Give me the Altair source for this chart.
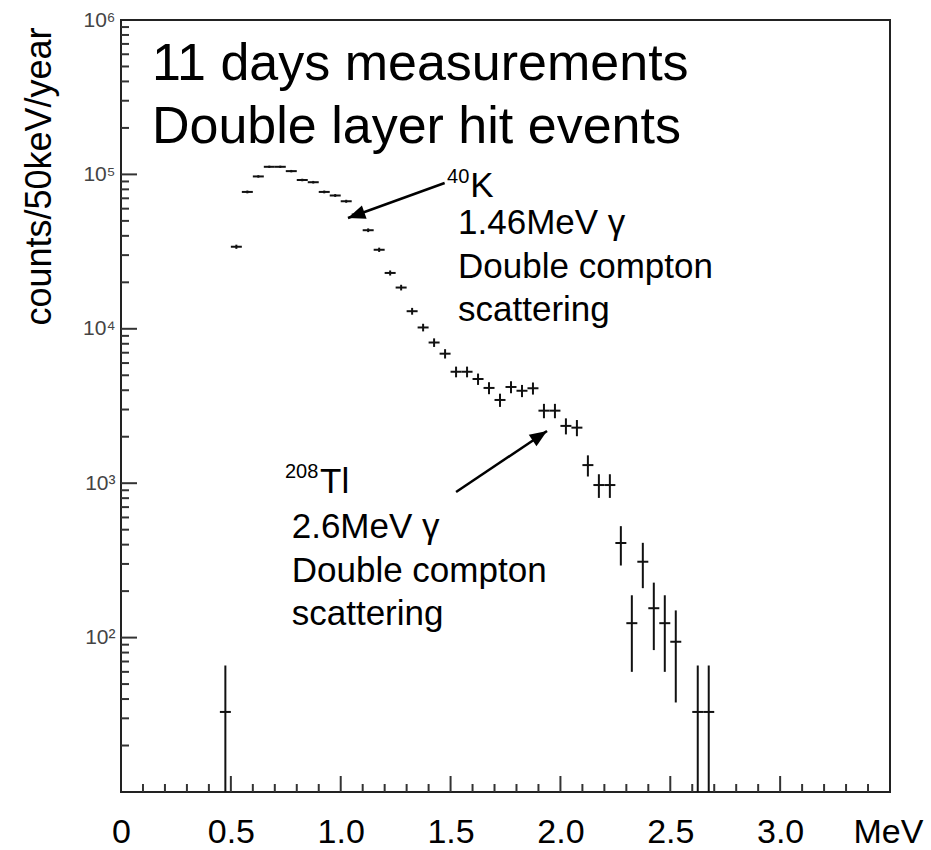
import altair as alt
import pandas as pd

# ---- data ----
energy = [0.475, 0.525, 0.575, 0.625, 0.675, 0.725, 0.775, 0.825, 0.875, 0.925,
          0.975, 1.025, 1.075, 1.125, 1.175, 1.225, 1.275, 1.325, 1.375, 1.425,
          1.475, 1.525, 1.575, 1.625, 1.675, 1.725, 1.775, 1.825, 1.875, 1.925,
          1.975, 2.025, 2.075, 2.125, 2.175, 2.225, 2.275, 2.325, 2.375, 2.425,
          2.475, 2.525, 2.625, 2.675]
counts = [33, 34000, 77000, 97000, 112000, 112000, 105000, 92000, 89000, 77000,
          73000, 67000, 55000, 43500, 32500, 23000, 18500, 13000, 10200, 8150,
          6900, 5270, 5270, 4730, 4140, 3460, 4200, 3970, 4120, 2950,
          2950, 2350, 2290, 1310, 973, 973, 410, 124, 310, 155,
          124, 94, 33, 33]
errors = [33, 1060, 1600, 1800, 1930, 1930, 1870, 1750, 1720, 1600,
          1560, 1490, 1350, 1200, 1040, 870, 780, 660, 580, 520,
          480, 420, 420, 400, 370, 340, 375, 360, 370, 315,
          315, 280, 275, 205, 170, 170, 117, 64, 101, 72,
          64, 56, 33, 33]
half_bin = 0.025

x_label_values = [0, 0.5, 1.0, 1.5, 2.0, 2.5, 3.0]
x_major_ticks = [0.5, 1.0, 1.5, 2.0, 2.5, 3.0]
x_minor_ticks = [round(0.1 * i, 1) for i in range(1, 35) if i % 5 != 0]
y_label_values = [100, 1000, 10000, 100000, 1000000]
y_major_ticks = [100, 1000, 10000, 100000]
y_minor_ticks = [m * 10 ** k for k in range(1, 6) for m in range(2, 10)]

# annotations (positions in data units: MeV, counts)
ann_text = ["11 days measurements", "Double layer hit events",
            "40", "K", "1.46MeV γ", "Double compton", "scattering",
            "208", "Tl", "2.6MeV γ", "Double compton", "scattering"]
ann_x = [0.141, 0.141,
         1.484, 1.589, 1.534, 1.534, 1.534,
         0.746, 0.906, 0.777, 0.777, 0.777]
ann_y = [408000, 160000,
         87900, 71400, 41100, 21300, 11200,
         1080, 865, 442, 229, 121]
ann_size = [52, 52, 20, 35, 35, 35, 35, 20, 35, 35, 35, 35]

arrow_x0 = [1.473, 1.525]
arrow_y0 = [87900, 877]
arrow_x1 = [1.033, 1.939]
arrow_y1 = [52200, 2180]
arrow_angle = [160.2, 326.2]

W, H = 769, 772
FONT = "Liberation Sans"

df = pd.DataFrame({"e": energy, "c": counts, "err": errors})
df["lo"] = (df["c"] - df["err"]).clip(lower=1)
df["hi"] = df["c"] + df["err"]
df["e0"] = df["e"] - half_bin
df["e1"] = df["e"] + half_bin

xs = alt.Scale(domain=[0, 3.5], nice=False, zero=False)
ys = alt.Scale(type="log", domain=[10, 1e6], nice=False)

x_axis = alt.Axis(values=x_label_values, ticks=False, tickSize=0, domain=False, grid=False,
                  labelExpr="datum.value == 0 ? '0' : format(datum.value, '.1f')",
                  labelFont=FONT, labelFontSize=34, labelColor="black",
                  labelBaseline="alphabetic", labelPadding=50,
                  labelFlush=False, labelOverlap=False,
                  title="MeV", titleFont=FONT, titleFontSize=34, titleFontWeight="normal",
                  titleColor="black", titleX=767, titleY=50, titleAlign="center",
                  titleBaseline="alphabetic")
y_axis = alt.Axis(values=y_label_values, ticks=False, tickSize=0, domain=False, grid=False,
                  labelExpr="'10' + ['⁰','¹','²','³','⁴','⁵','⁶'][round(log(datum.value)/LN10)]",
                  labelFont=FONT, labelFontSize=21, labelColor="#444", labelPadding=6,
                  labelFlush=False, labelOverlap=False,
                  title="counts/50keV/year", titleFont=FONT, titleFontSize=36,
                  titleFontWeight="normal", titleColor="black", titleAngle=270,
                  titleX=-71, titleY=156, titleAlign="center", titleBaseline="alphabetic")


def X(field):
    return alt.X(field, scale=xs, axis=x_axis)


def Y(field):
    return alt.Y(field, scale=ys, axis=y_axis)


hbar = alt.Chart(df).mark_rule(color="#111", strokeWidth=2, clip=True).encode(
    x=X("e0:Q"), x2="e1:Q", y=Y("c:Q"))
vbar = alt.Chart(df).mark_rule(color="#111", strokeWidth=2, clip=True).encode(
    x=X("e:Q"), y=Y("lo:Q"), y2="hi:Q")

tick_color = "#333"
xmaj = alt.Chart(pd.DataFrame({"t": x_major_ticks})).mark_rule(color=tick_color, strokeWidth=2).encode(
    x=X("t:Q"), y=alt.value(H), y2=alt.value(H - 16))
xmin = alt.Chart(pd.DataFrame({"t": x_minor_ticks})).mark_rule(color=tick_color, strokeWidth=2).encode(
    x=X("t:Q"), y=alt.value(H), y2=alt.value(H - 8))
ymaj = alt.Chart(pd.DataFrame({"t": y_major_ticks})).mark_rule(color=tick_color, strokeWidth=2).encode(
    y=Y("t:Q"), x=alt.value(0), x2=alt.value(16))
ymin = alt.Chart(pd.DataFrame({"t": y_minor_ticks})).mark_rule(color=tick_color, strokeWidth=2).encode(
    y=Y("t:Q"), x=alt.value(0), x2=alt.value(8))

ann = alt.Chart(pd.DataFrame({"x": ann_x, "y": ann_y, "text": ann_text, "fs": ann_size})).mark_text(
    align="left", baseline="alphabetic", font=FONT, color="black").encode(
    x=X("x:Q"), y=Y("y:Q"),
    text="text:N",
    size=alt.Size("fs:Q", scale=None),
)

arrows_df = pd.DataFrame({"x0": arrow_x0, "y0": arrow_y0, "x1": arrow_x1, "y1": arrow_y1,
                          "ang": arrow_angle})
arrow_lines = alt.Chart(arrows_df).mark_rule(color="black", strokeWidth=2.5).encode(
    x=X("x0:Q"), y=Y("y0:Q"), x2="x1:Q", y2="y1:Q")
arrow_heads = alt.Chart(arrows_df).mark_point(
    shape="M0,0L-2,-0.8L-2,0.8Z", filled=True, size=300, color="black", opacity=1).encode(
    x=X("x1:Q"), y=Y("y1:Q"),
    angle=alt.Angle("ang:Q", scale=None))

chart = alt.layer(hbar, vbar, xmaj, xmin, ymaj, ymin, ann, arrow_lines, arrow_heads).properties(
    width=W, height=H,
    padding={"left": 121, "top": 20, "right": 41, "bottom": 58},
    autosize=alt.AutoSizeParams(type="none"),
    background="white",
).configure_view(stroke="#222", strokeWidth=2)

chart.save("out.html", embed_options={"renderer": "svg", "actions": False})
